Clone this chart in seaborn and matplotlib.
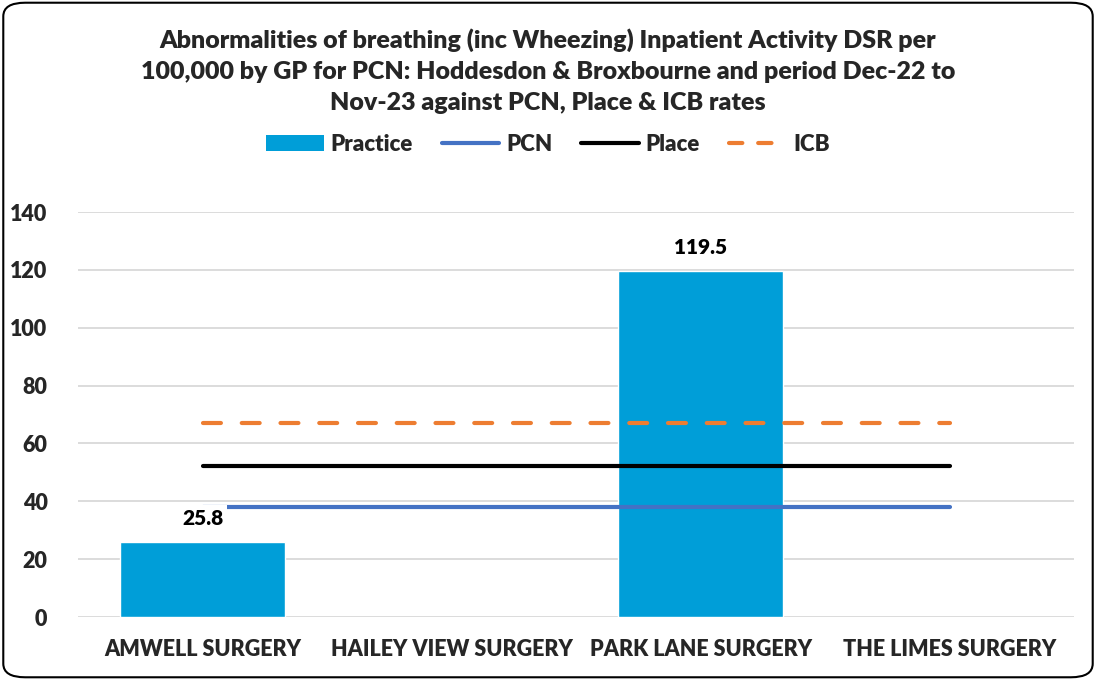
import matplotlib
matplotlib.use("Agg")
import matplotlib.pyplot as plt
from matplotlib.patches import FancyBboxPatch, Patch
from matplotlib.lines import Line2D
import numpy as np
import pandas as pd
import seaborn as sns

categories = ["AMWELL SURGERY", "HAILEY VIEW SURGERY", "PARK LANE SURGERY", "THE LIMES SURGERY"]
practice = [25.8, np.nan, 119.5, np.nan]
pcn_rate = 38.0
place_rate = 52.1
icb_rate = 67.2

bar_col = "#009ED8"
pcn_col = "#4472C4"
place_col = "#000000"
icb_col = "#ED7D31"

sns.set_theme(style="white")
plt.rcParams["font.family"] = ["Lato", "DejaVu Sans"]

df = pd.DataFrame({"surgery": categories, "rate": practice})

fig = plt.figure(figsize=(10.96, 6.8), dpi=100)
ax = fig.add_axes([0.0712, 0.0926, 0.9088, 0.5956])

sns.barplot(data=df, x="surgery", y="rate", order=categories, color=bar_col,
            saturation=1, width=0.66, ax=ax, zorder=2)

xs = np.arange(len(categories))
ax.plot(xs, [pcn_rate] * len(xs), color=pcn_col, lw=3, solid_capstyle="round", zorder=3)
ax.plot(xs, [place_rate] * len(xs), color=place_col, lw=3, solid_capstyle="round", zorder=3)
ax.plot(xs, [icb_rate] * len(xs), color=icb_col, lw=3, dashes=(4.3, 5.0),
        dash_capstyle="round", zorder=3)

for i, v in enumerate(practice):
    if not np.isnan(v):
        ax.text(i, v + 5, f"{v:.1f}", ha="center", va="bottom", fontsize=15,
                fontweight="heavy", color="black", zorder=5,
                bbox=dict(facecolor="white", edgecolor="none", pad=2.5))

ax.set_ylim(0, 140)
ax.set_xlim(-0.5, len(categories) - 0.5)
ax.set_yticks(range(0, 141, 20))
ax.yaxis.grid(True, color="#D9D9D9", lw=1.3, zorder=0)
ax.set_axisbelow(True)
for s in ax.spines.values():
    s.set_visible(False)
ax.set_xlabel("")
ax.set_ylabel("")
ax.tick_params(axis="both", length=0, labelsize=15.5)
ax.tick_params(axis="x", pad=16)
ax.tick_params(axis="y", pad=22)
for lab in ax.get_xticklabels() + ax.get_yticklabels():
    lab.set_fontweight("heavy")

fig.text(0.5, 0.958,
         "Abnormalities of breathing (inc Wheezing) Inpatient Activity DSR per\n"
         "100,000 by GP for PCN: Hoddesdon & Broxbourne and period Dec-22 to\n"
         "Nov-23 against PCN, Place & ICB rates",
         ha="center", va="top", fontsize=18, fontweight="heavy", linespacing=1.5)

handles = [
    Patch(facecolor=bar_col, edgecolor="none"),
    Line2D([0], [0], color=pcn_col, lw=3),
    Line2D([0], [0], color=place_col, lw=3),
    Line2D([0], [0], color=icb_col, lw=3, dashes=(3.2, 3.8), dash_capstyle="round"),
]
leg = fig.legend(handles, ["Practice", "PCN", "Place", "ICB"], loc="center",
                 bbox_to_anchor=(0.5, 0.788), ncol=4, frameon=False,
                 prop={"weight": "heavy", "size": 16}, handlelength=2.6,
                 columnspacing=1.3, handletextpad=0.3)

border = FancyBboxPatch((0.003, 0.004), 0.994, 0.992, boxstyle="round,pad=0,rounding_size=0.02",
                        transform=fig.transFigure, facecolor="none", edgecolor="black", lw=1.5)
fig.patches.append(border)

fig.savefig("out.png", dpi=100)
